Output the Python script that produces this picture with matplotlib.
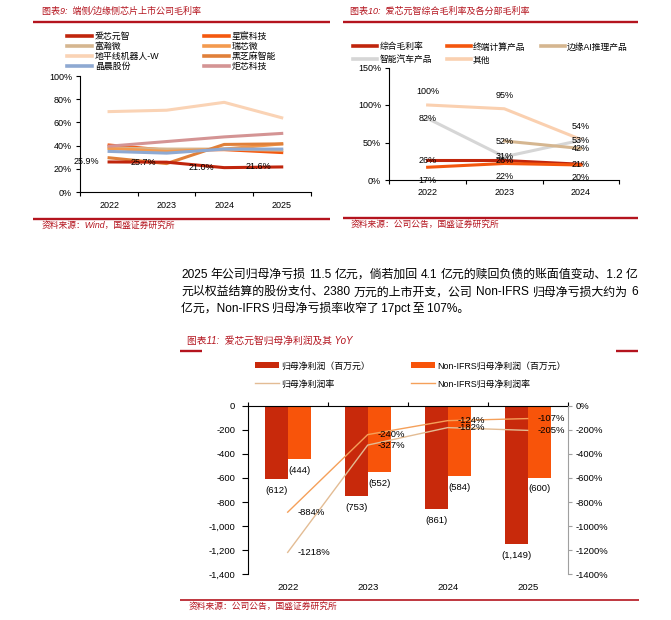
import matplotlib
matplotlib.use('Agg')
import matplotlib.pyplot as plt
from matplotlib.lines import Line2D
from matplotlib.patches import Patch
from matplotlib.ticker import FuncFormatter, FixedLocator
import numpy as np

# ---------------- data ----------------
years_l = ['2022', '2023', '2024', '2025']
companies = ['爱芯元智', '星宸科技', '富瀚微', '瑞芯微', '地平线机器人-W', '黑芝麻智能', '晶晨股份', '炬芯科技']
aixin = [25.9, 25.7, 21.0, 21.6]
xingchen = [40.5, 36.0, 36.5, 34.0]
fuhan = [38.0, 37.0, 37.0, 36.0]
ruixin = [37.5, 35.0, 37.0, 41.5]
dipingxian = [69.3, 70.5, 77.3, 64.0]
heizhima = [29.5, 24.5, 41.0, 41.5]
jingchen = [35.0, 33.5, 37.0, 37.0]
juxin = [39.5, 43.5, 47.5, 50.5]

years_r = ['2022', '2023', '2024']
segments = ['综合毛利率', '终端计算产品', '边缘AI推理产品', '智能汽车产品', '其他']
zonghe = [26, 26, 21]
zhongduan = [17, 22, 20]
bianyuan = [np.nan, 52, 42]
qiche = [82, 31, 53]
qita = [100, 95, 54]

years_b = ['2022', '2023', '2024', '2025']
net_profit = [-612, -753, -861, -1149]
nonifrs_profit = [-444, -552, -584, -600]
net_margin = [-1218, -327, -182, -205]
nonifrs_margin = [-884, -240, -124, -107]

para_lines = [
    '2025 年公司归母净亏损 11.5 亿元，倘若加回 4.1 亿元的赎回负债的账面值变动、1.2 亿',
    '元以权益结算的股份支付、2380 万元的上市开支，公司 Non-IFRS 归母净亏损大约为 6',
    '亿元，Non-IFRS 归母净亏损率收窄了 17pct 至 107%。',
]

# ---------------- setup ----------------
W, H = 671, 620
DPI = 100
plt.rcParams['font.family'] = ['Liberation Sans', 'Noto Sans CJK SC', 'DejaVu Sans']
plt.rcParams['axes.unicode_minus'] = False
RED = '#B4141E'

fig = plt.figure(figsize=(W / DPI, H / DPI), dpi=DPI)


def ax_px(l, t, r, b):
    return fig.add_axes([l / W, 1 - b / H, (r - l) / W, (b - t) / H])


def fig_xy(x, y):
    return (x / W, 1 - y / H)


def ftxt(x, y, s, **kw):
    kw.setdefault('va', 'center')
    kw.setdefault('ha', 'left')
    return fig.text(x / W, 1 - y / H, s, **kw)


def hline(x1, x2, y, lw=1.7, color=RED):
    fig.add_artist(Line2D([x1 / W, x2 / W], [1 - y / H] * 2, transform=fig.transFigure,
                          color=color, lw=lw, solid_capstyle='butt'))


def style_cat_axis(ax, n, fs, pad):
    ax.set_xlim(-0.5, n - 0.5)
    ax.xaxis.set_major_locator(FixedLocator(np.arange(n)))
    ax.xaxis.set_minor_locator(FixedLocator(np.arange(n + 1) - 0.5))
    ax.tick_params(axis='x', which='major', length=0, labelsize=fs, pad=pad)
    ax.tick_params(axis='x', which='minor', length=3, width=0.8, direction='out')


# ---------------- top-left chart ----------------
ftxt(41.5, 11.7, '图表9:  端侧/边缘侧芯片上市公司毛利率', color=RED, fontsize=6.5, style='italic')
hline(32.7, 330, 22.3)
hline(32.7, 330, 218.7)
ftxt(41.5, 225, '资料来源：Wind，国盛证券研究所', color=RED, fontsize=6.3, style='italic')

axL = ax_px(80.3, 76, 310.5, 192)
xl = np.arange(len(years_l))
colors_l = ['#C0250C', '#F4580F', '#D5B690', '#F39A4F', '#FAD3B5', '#E0803A', '#8EA9D2', '#D49494']
series_l = [aixin, xingchen, fuhan, ruixin, dipingxian, heizhima, jingchen, juxin]
handles_l = []
for name, vals, col in zip(companies, series_l, colors_l):
    axL.plot(xl, vals, color=col, lw=2.2, zorder=2 if name != '爱芯元智' else 3)
    handles_l.append(Line2D([], [], color=col, lw=2.6, label=name))
for xi, v in zip(xl, aixin):
    axL.annotate(f'{v:.1f}%', (xi, v), xytext=(-23, 0), textcoords='offset pixels',
                 ha='center', va='center', fontsize=6.5, zorder=5)
axL.set_ylim(0, 100)
axL.set_yticks(np.arange(0, 101, 20))
axL.yaxis.set_major_formatter(FuncFormatter(lambda v, p: f'{v:.0f}%'))
axL.tick_params(axis='y', length=3, width=0.8, labelsize=6.5, pad=3)
style_cat_axis(axL, 4, 6.5, 6.5)
axL.set_xticklabels(years_l)
for s in ['top', 'right']:
    axL.spines[s].set_visible(False)
for s in ['left', 'bottom']:
    axL.spines[s].set_linewidth(0.8)
axL.patch.set_alpha(0)

order_l = [0, 2, 4, 6, 1, 3, 5, 7]
fig.legend(handles=[handles_l[i] for i in order_l], loc='upper left',
           bbox_to_anchor=fig_xy(66.7, 32.3), ncol=2, frameon=False, fontsize=6.4,
           handlelength=2.8, handletextpad=0.35, columnspacing=5.0, labelspacing=0.1,
           borderpad=0, borderaxespad=0)

# ---------------- top-right chart ----------------
ftxt(350, 11.7, '图表10:  爱芯元智综合毛利率及各分部毛利率', color=RED, fontsize=6.5, style='italic')
hline(343.3, 638.3, 22.3)
hline(343.3, 638.3, 218.3)
ftxt(351, 224, '资料来源：公司公告，国盛证券研究所', color=RED, fontsize=6.3, style='italic')

axR = ax_px(389.3, 67.5, 619.3, 180)
xr = np.arange(len(years_r))
colors_r = ['#C0250C', '#F4560D', '#D5B690', '#D6D6D6', '#FAD0B0']
series_r = [zonghe, zhongduan, bianyuan, qiche, qita]
offsets_r = [0, 13, 0, 0, -13]
zorders = [4, 5, 3, 2, 1]
handles_r = []
for name, vals, col, off, zo in zip(segments, series_r, colors_r, offsets_r, zorders):
    axR.plot(xr, vals, color=col, lw=2.2, zorder=zo)
    handles_r.append(Line2D([], [], color=col, lw=2.6, label=name))
    for xi, v in zip(xr, vals):
        if np.isnan(v):
            continue
        axR.annotate(f'{v:.0f}%', (xi, v), xytext=(0, -off), textcoords='offset pixels',
                     ha='center', va='center', fontsize=6.5, zorder=6)
axR.set_ylim(0, 150)
axR.set_yticks([0, 50, 100, 150])
axR.yaxis.set_major_formatter(FuncFormatter(lambda v, p: f'{v:.0f}%'))
axR.tick_params(axis='y', length=3, width=0.8, labelsize=6.5, pad=3)
style_cat_axis(axR, 3, 6.5, 5.5)
axR.set_xticklabels(years_r)
for s in ['top', 'right']:
    axR.spines[s].set_visible(False)
for s in ['left', 'bottom']:
    axR.spines[s].set_linewidth(0.8)
axR.patch.set_alpha(0)

order_r = [0, 3, 1, 4, 2]
fig.legend(handles=[handles_r[i] for i in order_r], loc='upper left',
           bbox_to_anchor=fig_xy(353.3, 42.5), ncol=3, frameon=False, fontsize=6.3,
           handlelength=2.7, handletextpad=0.27, columnspacing=1.75, labelspacing=0.45,
           borderpad=0, borderaxespad=0)

# ---------------- paragraph ----------------
renderer = fig.canvas.get_renderer()


def justify(y, s, x0, x1, fs):
    toks = s.split(' ')
    ts = [ftxt(x0, y, t, fontsize=fs, color='black') for t in toks]
    ws = [t.get_window_extent(renderer).width for t in ts]
    gap = (x1 - x0 - sum(ws)) / (len(toks) - 1)
    x = x0
    for t, w in zip(ts, ws):
        t.set_x(x / W)
        x += w + gap


PFS = 8.6
justify(275, para_lines[0], 181, 638, PFS)
justify(292.3, para_lines[1], 181, 638, PFS)
ftxt(181, 308.3, para_lines[2].replace(' ', '\u2009'), fontsize=PFS, color='black')

# ---------------- bottom chart ----------------
ftxt(187.3, 341, '图表11:  爱芯元智归母净利润及其 YoY', color=RED, fontsize=7.0, style='italic')
hline(180, 201.7, 351.3)
hline(616, 638.3, 351.3)
hline(180, 639, 600, lw=1.2)
ftxt(188.3, 606.7, '资料来源：公司公告，国盛证券研究所', color=RED, fontsize=6.3, style='italic')

axB = ax_px(247.7, 405.7, 567.7, 574.3)
xb = np.arange(len(years_b))
bw = 0.29
c_np, c_non = '#C8290B', '#F8540A'
c_npm, c_nonm = '#E3BC94', '#F5A05A'
axB.bar(xb - bw / 2, net_profit, bw, color=c_np, zorder=2)
axB.bar(xb + bw / 2, nonifrs_profit, bw, color=c_non, zorder=2)
for xi, v in zip(xb, net_profit):
    axB.annotate(f'({abs(v):,})', (xi - bw / 2, v), xytext=(0, -11), textcoords='offset pixels',
                 ha='center', va='center', fontsize=6.8)
for xi, v in zip(xb, nonifrs_profit):
    axB.annotate(f'({abs(v):,})', (xi + bw / 2, v), xytext=(0, -11), textcoords='offset pixels',
                 ha='center', va='center', fontsize=6.8)
axB.set_ylim(-1400, 0)
axB.set_yticks(np.arange(-1400, 1, 200))
axB.yaxis.set_major_formatter(FuncFormatter(lambda v, p: '0' if v == 0 else f'-{abs(int(v)):,}'))
axB.tick_params(axis='y', length=4, width=0.8, labelsize=6.8, pad=5)
style_cat_axis(axB, 4, 6.8, 6)
axB.set_xticklabels(years_b)
axB.tick_params(axis='x', which='minor', bottom=False, top=True, length=3)
axB.spines['bottom'].set_visible(False)
axB.spines['right'].set_visible(False)
axB.spines['top'].set_linewidth(0.8)
axB.spines['left'].set_linewidth(0.8)

axB2 = axB.twinx()
axB2.plot(xb, net_margin, color=c_npm, lw=1.0, zorder=3)
axB2.plot(xb, nonifrs_margin, color=c_nonm, lw=1.0, zorder=3)
for xi, v in zip(xb, net_margin):
    axB2.annotate(f'{v}%', (xi, v), xytext=(10, 0), textcoords='offset pixels',
                  ha='left', va='center', fontsize=6.8)
for xi, v in zip(xb, nonifrs_margin):
    axB2.annotate(f'{v}%', (xi, v), xytext=(10, 0), textcoords='offset pixels',
                  ha='left', va='center', fontsize=6.8)
axB2.set_ylim(-1400, 0)
axB2.set_yticks(np.arange(-1400, 1, 200))
axB2.yaxis.set_major_formatter(FuncFormatter(lambda v, p: f'{int(v)}%'))
axB2.tick_params(axis='y', length=3, width=0.8, labelsize=6.8, pad=3, color='#A0A0A0')
for s in ['top', 'bottom', 'left']:
    axB2.spines[s].set_visible(False)
axB2.spines['right'].set_color('#A0A0A0')
axB2.spines['right'].set_linewidth(0.8)

handles_b = [
    Patch(facecolor=c_np, label='归母净利润（百万元）'),
    Line2D([], [], color=c_npm, lw=1.0, label='归母净利润率'),
    Patch(facecolor=c_non, label='Non-IFRS归母净利润（百万元）'),
    Line2D([], [], color=c_nonm, lw=1.0, label='Non-IFRS归母净利润率'),
]
fig.legend(handles=handles_b, loc='upper left', bbox_to_anchor=fig_xy(255, 361.5), ncol=2,
           frameon=False, fontsize=6.4, handlelength=2.7, handletextpad=0.2,
           columnspacing=4.7, labelspacing=1.0, borderpad=0, borderaxespad=0)

fig.savefig('out.png', dpi=DPI)
